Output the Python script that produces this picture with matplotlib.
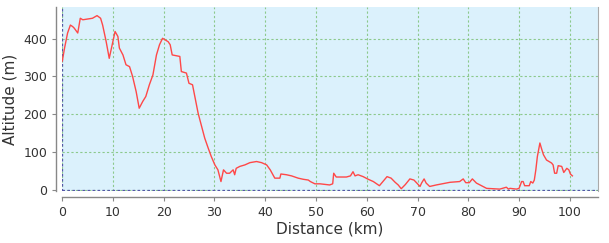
import matplotlib
matplotlib.use("Agg")
import matplotlib.pyplot as plt

distance_km = [0.0, 0.1, 0.5, 1.1, 1.65, 2.1, 2.4, 3.1, 3.6, 4.1, 5.1, 6.0, 6.9, 7.6, 8.0, 8.7, 9.3,
               10.0, 10.45, 11.0, 11.3, 12.0, 12.6, 13.3, 13.9, 14.6, 15.2, 15.9, 16.5, 17.2, 17.9,
               18.6, 19.2, 19.8, 20.9, 21.3, 21.7, 23.2, 23.5, 24.5, 25.0, 25.7, 26.1, 26.8, 27.5,
               28.1, 28.8, 29.4, 30.1, 30.7, 31.3, 31.8, 32.4, 33.0, 33.7, 34.0, 34.3, 35.0, 36.0,
               37.0, 38.3, 39.3, 40.3, 41.0, 41.9, 42.9, 43.1, 44.2, 45.2, 46.5, 47.5, 48.5, 48.9,
               49.8, 50.8, 52.7, 53.3, 53.5, 54.0, 55.0, 56.0, 56.8, 57.3, 57.7, 58.3, 59.3, 60.3,
               61.3, 62.5, 63.2, 64.0, 64.8, 65.6, 66.2, 66.8, 67.6, 68.5, 69.3, 69.8, 70.5, 70.8,
               71.3, 71.7, 72.4, 73.7, 76.4, 78.3, 79.0, 79.5, 80.2, 80.8, 81.6, 83.6, 86.2, 87.5,
               87.9, 88.2, 89.5, 90.0, 90.5, 90.8, 91.1, 92.0, 92.3, 92.7, 93.0, 93.3, 93.6, 94.1,
               94.4, 94.8, 95.4, 95.9, 96.4, 96.7, 97.0, 97.4, 97.7, 98.4, 98.8, 99.4, 99.8, 100.1,
               100.5]
altitude_m = [340, 344, 375, 415, 436, 432, 428, 415, 454, 450, 452, 454, 461, 454, 436, 392, 348,
              392, 419, 406, 375, 357, 331, 326, 300, 260, 216, 234, 247, 278, 304,
              357, 384, 401, 392, 384, 357, 353, 313, 309, 282, 278, 251, 203, 167,
              137, 110, 88, 66, 53, 22, 53, 44, 44, 53, 40, 57, 62, 66,
              72, 75, 72, 66, 53, 31, 31, 42, 40, 37, 31, 28, 26, 22,
              16, 16, 13, 16, 44, 34, 34, 34, 37, 48, 37, 40, 35, 28,
              22, 11, 22, 35, 31, 20, 13, 3, 14, 29, 26, 19, 9, 18,
              29, 18, 9, 13, 20, 22, 29, 19, 19, 29, 18, 4, 2, 7,
              2, 4, 2, 4, 22, 22, 11, 11, 22, 18, 26, 53, 88, 124,
              110, 93, 79, 75, 71, 66, 44, 44, 64, 62, 46, 57, 53, 42,
              37]

x_ticks = [0, 10, 20, 30, 40, 50, 60, 70, 80, 90, 100]
y_ticks = [0, 100, 200, 300, 400]

fig = plt.figure(figsize=(6.09, 2.43), dpi=100)
ax = fig.add_axes([62/609, 1 - 191/243, (598.3 - 62)/609, (191 - 7.3)/243])
ax.set_facecolor("#dbf1fc")
ax.set_xlim(0, 105.6)
ax.set_ylim(-3, 483)

ax.grid(True, color="#8cc98c", linestyle=(0, (2, 2)), linewidth=0.8)
ax.axhline(0, color="#5555aa", linestyle=(0, (2, 2)), linewidth=0.9, zorder=2)
ax.axvline(0, color="#5555aa", linestyle=(0, (2, 2)), linewidth=0.9, zorder=2)

ax.plot(distance_km, altitude_m, color="#ff4848", linewidth=1.0, zorder=3)

ax.set_xticks(x_ticks)
ax.set_yticks(y_ticks)
ax.tick_params(labelsize=9, colors="#333333", length=3, width=0.8)
ax.tick_params(axis="both", color="#888888")

ax.spines["top"].set_visible(False)
ax.spines["right"].set_color("#aaaaaa")
ax.spines["right"].set_linewidth(0.8)
for s in ["left", "bottom"]:
    ax.spines[s].set_position(("outward", 4))
    ax.spines[s].set_color("#888888")
    ax.spines[s].set_linewidth(1.0)

ax.set_xlabel("Distance (km)", fontsize=11, color="#333333", labelpad=2)
ax.set_ylabel("Altitude (m)", fontsize=11, color="#333333", labelpad=4)

fig.savefig("out.png", dpi=100)
